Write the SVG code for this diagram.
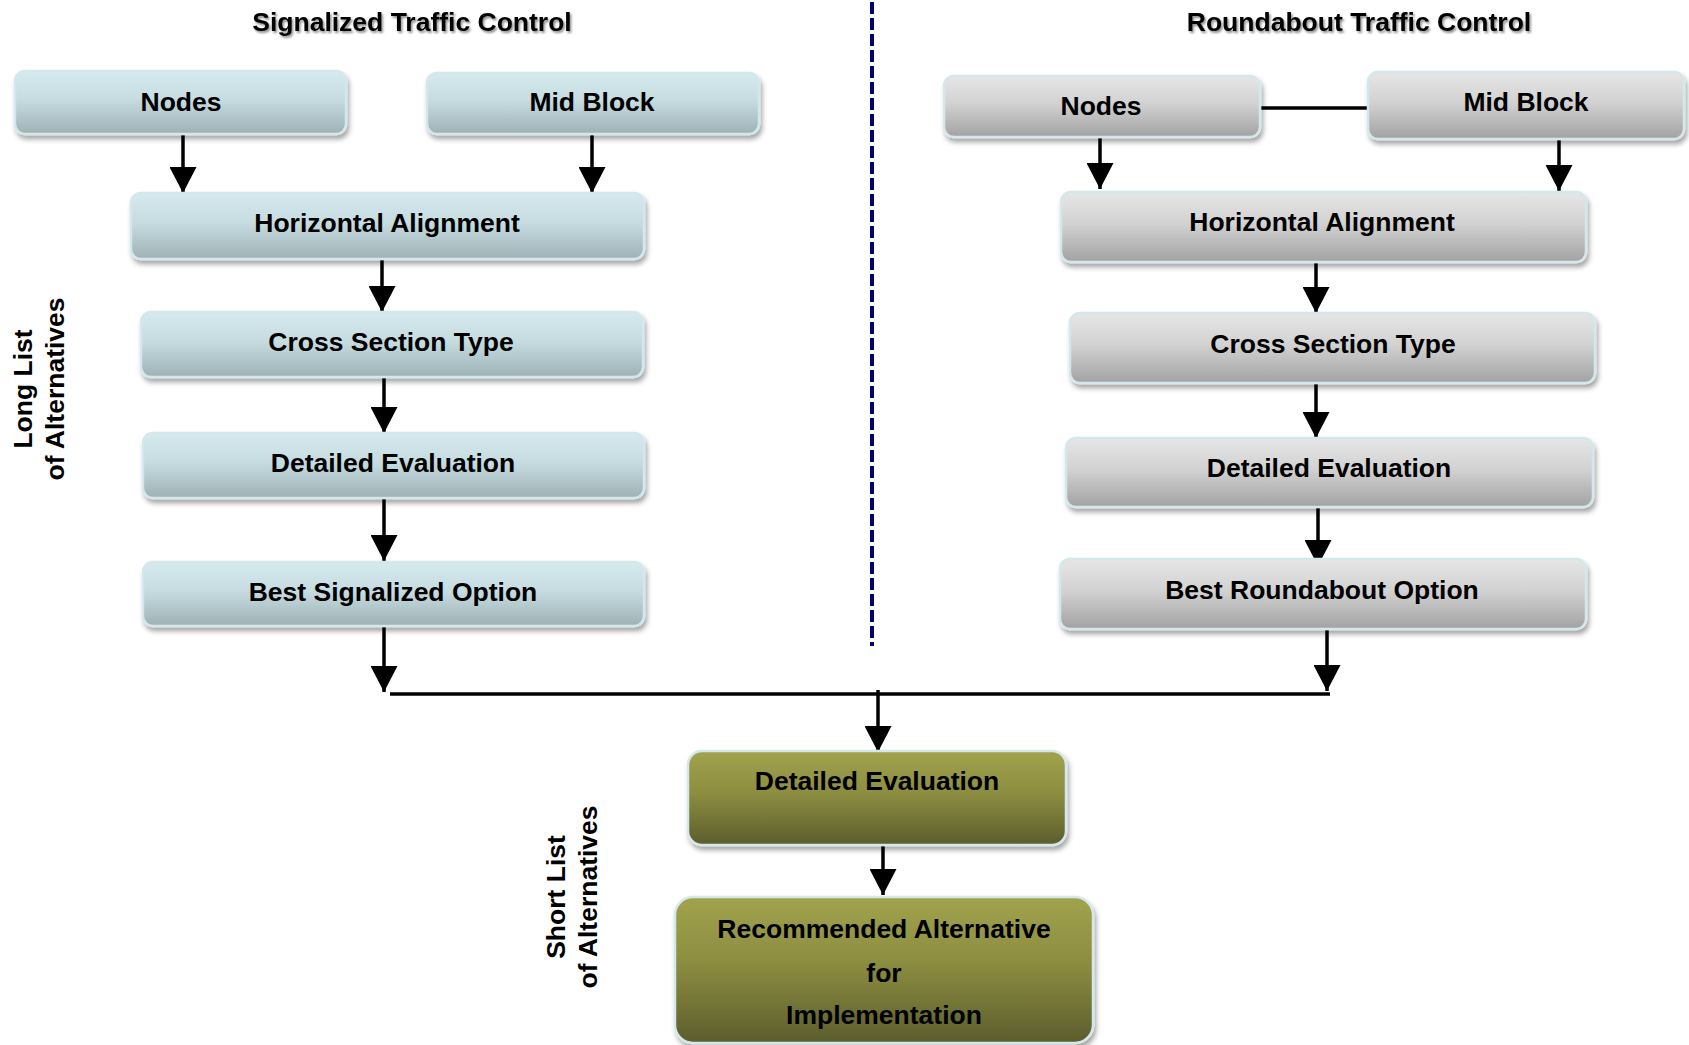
<svg xmlns="http://www.w3.org/2000/svg" width="1689" height="1045" viewBox="0 0 1689 1045">
<style>
text{font-family:"Liberation Sans",Arial,sans-serif;font-weight:bold;font-size:26.5px;fill:#000;text-anchor:middle}
.box{stroke:#d4e8ec;stroke-width:2.5;filter:url(#sh)}
.blue{fill:url(#gBlue)}
.gray{fill:url(#gGray)}
.olive{fill:url(#gOlive)}
.con{stroke:#000;stroke-width:3.5;fill:none}
.arr{marker-end:url(#ah)}
.title{filter:url(#tsh)}
</style>
<defs>
<linearGradient id="gBlue" x1="0" y1="0" x2="0" y2="1">
<stop offset="0" stop-color="#d4eaee"/><stop offset="0.45" stop-color="#c6dce0"/><stop offset="1" stop-color="#9eb2b6"/>
</linearGradient>
<linearGradient id="gGray" x1="0" y1="0" x2="0" y2="1">
<stop offset="0" stop-color="#e6e6e6"/><stop offset="0.45" stop-color="#d2d2d2"/><stop offset="1" stop-color="#a2a2a2"/>
</linearGradient>
<linearGradient id="gOlive" x1="0" y1="0" x2="0" y2="1">
<stop offset="0" stop-color="#a1a34d"/><stop offset="0.45" stop-color="#8c8d40"/><stop offset="1" stop-color="#5c5d2d"/>
</linearGradient>
<filter id="sh" x="-5%" y="-20%" width="115%" height="150%">
<feDropShadow dx="2" dy="4" stdDeviation="2.5" flood-color="#000" flood-opacity="0.35"/>
</filter>
<filter id="tsh" x="-5%" y="-30%" width="110%" height="170%">
<feDropShadow dx="1.5" dy="2" stdDeviation="1.2" flood-color="#000" flood-opacity="0.45"/>
</filter>
<marker id="ah" markerUnits="userSpaceOnUse" markerWidth="27" markerHeight="27" refX="26" refY="13.5" orient="auto">
<path d="M0,0 L26,13.5 L0,27 Z" fill="#000"/>
</marker>
</defs>
<rect width="1689" height="1045" fill="#fff"/>

<g id="titles">
<text class="title" x="412" y="31">Signalized Traffic Control</text>
<text class="title" x="1359" y="31">Roundabout Traffic Control</text>
</g>

<g id="side-labels">
<text transform="translate(32,389) rotate(-90)">Long List</text>
<text transform="translate(64,389) rotate(-90)">of Alternatives</text>
<text transform="translate(565,897) rotate(-90)">Short List</text>
<text transform="translate(597,897) rotate(-90)">of Alternatives</text>
</g>

<g id="connectors">
<line x1="872" y1="2" x2="872" y2="646" stroke="#000066" stroke-width="4" stroke-dasharray="12,4"/>
<line class="con arr" x1="183" y1="134" x2="183" y2="193"/>
<line class="con arr" x1="592" y1="134" x2="592" y2="193"/>
<line class="con arr" x1="382" y1="259" x2="382" y2="312"/>
<line class="con arr" x1="384" y1="377" x2="384" y2="433"/>
<line class="con arr" x1="384" y1="498" x2="384" y2="561"/>
<line class="con arr" x1="384" y1="626" x2="384" y2="692"/>
<line class="con" x1="390" y1="694" x2="1330" y2="694"/>
<line class="con arr" x1="878" y1="690" x2="878" y2="752"/>
<line class="con arr" x1="883" y1="846" x2="883" y2="895"/>
<line class="con" x1="1260" y1="108" x2="1368" y2="108"/>
<line class="con arr" x1="1100" y1="137" x2="1100" y2="189"/>
<line class="con arr" x1="1559" y1="139" x2="1559" y2="191"/>
<line class="con arr" x1="1316" y1="262" x2="1316" y2="313"/>
<line class="con arr" x1="1316" y1="368" x2="1316" y2="438"/>
<line class="con arr" x1="1318" y1="507" x2="1318" y2="566"/>
<line class="con arr" x1="1327" y1="629" x2="1327" y2="691"/>
</g>

<g id="s-nodes"><rect class="box blue" x="15" y="71" width="331" height="63" rx="10"/><text x="181" y="111">Nodes</text></g>
<g id="s-midblock"><rect class="box blue" x="427" y="73" width="332" height="61" rx="10"/><text x="592" y="111">Mid Block</text></g>
<g id="s-horizontal"><rect class="box blue" x="131" y="193" width="513" height="66" rx="10"/><text x="387" y="232">Horizontal Alignment</text></g>
<g id="s-cross"><rect class="box blue" x="141" y="312" width="502" height="65" rx="10"/><text x="391" y="351">Cross Section Type</text></g>
<g id="s-detailed"><rect class="box blue" x="143" y="433" width="501" height="65" rx="10"/><text x="393" y="472">Detailed Evaluation</text></g>
<g id="s-best"><rect class="box blue" x="143" y="562" width="501" height="64" rx="10"/><text x="393" y="601">Best Signalized Option</text></g>

<g id="r-nodes"><rect class="box gray" x="944" y="76" width="316" height="61" rx="10"/><text x="1101" y="115">Nodes</text></g>
<g id="r-midblock"><rect class="box gray" x="1368" y="72" width="316" height="67" rx="10"/><text x="1526" y="111">Mid Block</text></g>
<g id="r-horizontal"><rect class="box gray" x="1061" y="192" width="525" height="70" rx="10"/><text x="1322" y="231">Horizontal Alignment</text></g>
<g id="r-cross"><rect class="box gray" x="1070" y="313" width="525" height="70" rx="10"/><text x="1333" y="353">Cross Section Type</text></g>
<g id="r-detailed"><rect class="box gray" x="1066" y="438" width="527" height="69" rx="10"/><text x="1329" y="477">Detailed Evaluation</text></g>
<g id="r-best"><rect class="box gray" x="1060" y="559" width="526" height="70" rx="10"/><text x="1322" y="599">Best Roundabout Option</text></g>

<g id="final-detailed"><rect class="box olive" x="688" y="751" width="378" height="94" rx="14"/><text x="877" y="790">Detailed Evaluation</text></g>
<g id="recommended"><rect class="box olive" x="675" y="897" width="418" height="146" rx="18"/><text x="884" y="938">Recommended Alternative</text><text x="884" y="982">for</text><text x="884" y="1024">Implementation</text></g>
</svg>
